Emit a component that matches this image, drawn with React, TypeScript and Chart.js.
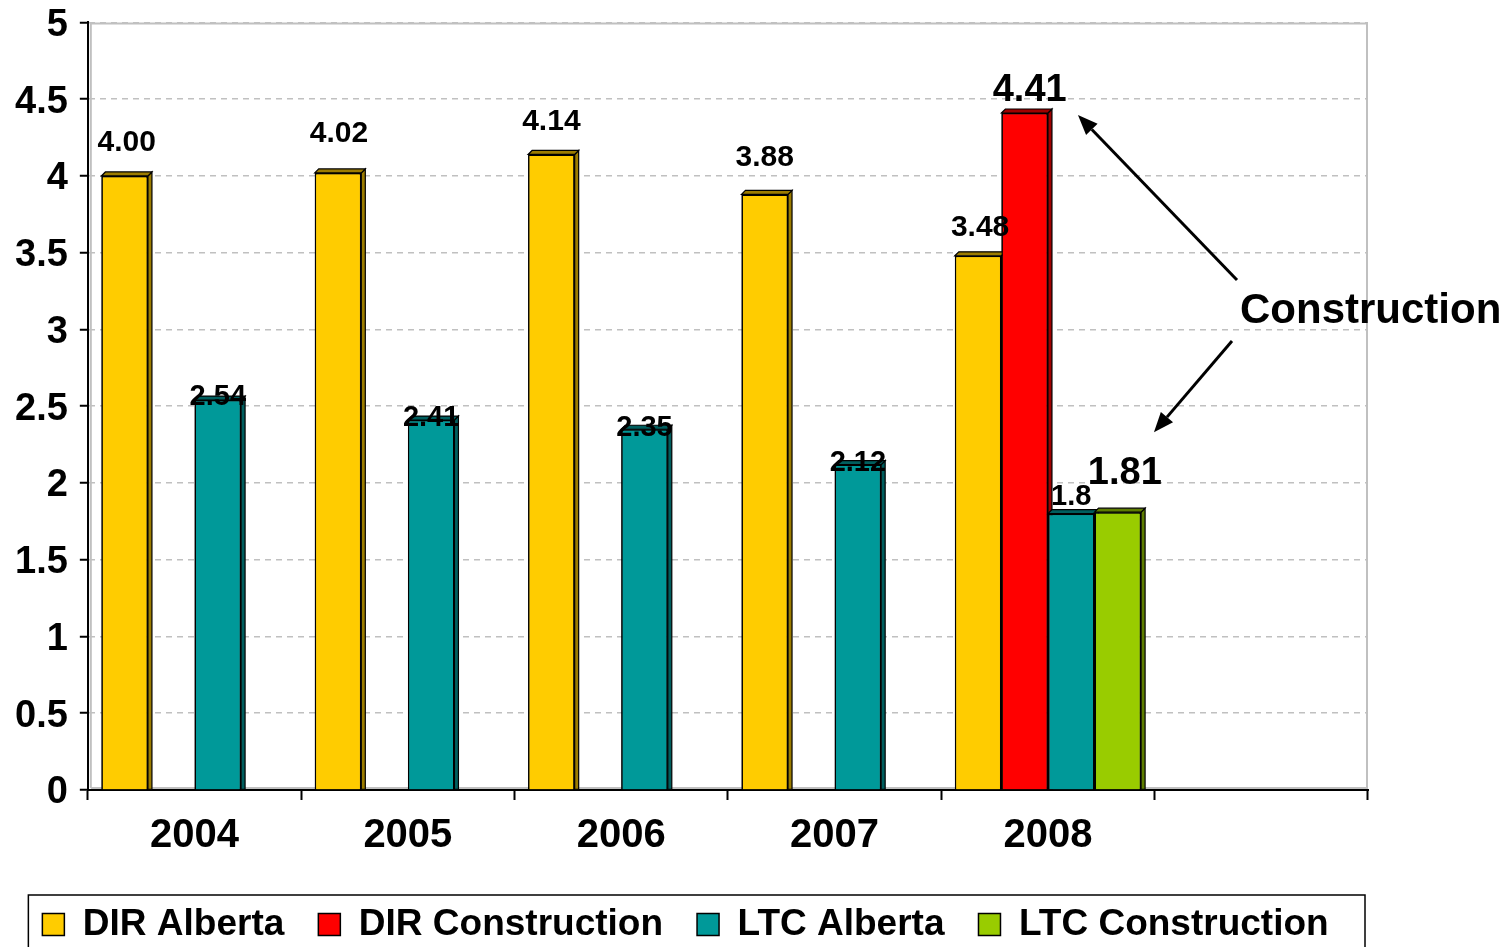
import React, { useEffect, useRef } from "react";
import { Chart, registerables } from "chart.js";

Chart.register(...registerables);

// ---------- data ----------
const categories = ["2004", "2005", "2006", "2007", "2008", ""];
const seriesNames = ["DIR Alberta", "DIR Construction", "LTC Alberta", "LTC Construction"];
const dirAlberta = [4.0, 4.02, 4.14, 3.88, 3.48, null];
const dirConstruction = [null, null, null, null, 4.41, null];
const ltcAlberta = [2.54, 2.41, 2.35, 2.12, 1.8, null];
const ltcConstruction = [null, null, null, null, 1.81, null];
const dirAlbertaLabels = ["4.00", "4.02", "4.14", "3.88", "3.48", ""];
const dirConstructionLabels = ["", "", "", "", "4.41", ""];
const ltcAlbertaLabels = ["2.54", "2.41", "2.35", "2.12", "1.8", ""];
const ltcConstructionLabels = ["", "", "", "", "1.81", ""];
const yMin = 0;
const yMax = 5;
const yStep = 0.5;
const annotationText = "Construction";

// ---------- styles ----------
const FONT = "'Liberation Sans', Arial, Helvetica, sans-serif";
const fills = ["#FFCC00", "#FF0000", "#009999", "#99CC00"];
const darks = ["#9C7C00", "#A00000", "#005E5E", "#5E7D00"];
// label style per series: font size, x shift, y offset (px above bar top, to label centre)
const labelStyles = [
  { size: 30, dx: [2, 1, 0, 0, 2, 0], dy: [33, 39, 33, 37, 28, 0] },
  { size: 38, dx: [0, 0, 0, 0, 5, 0], dy: [0, 0, 0, 0, 23, 0] },
  { size: 29, dx: [0, 0, 0, 0, 0, 0], dy: [3, 2, 1, 2, 17, 0] },
  { size: 38, dx: [0, 0, 0, 0, 7, 0], dy: [0, 0, 0, 0, 39, 0] },
];
const labelSets = [dirAlbertaLabels, dirConstructionLabels, ltcAlbertaLabels, ltcConstructionLabels];
const DEPTH = 4;
const LEGEND_SHIFT = 6;

const framePlugin = {
  id: "frame",
  afterLayout(chart: any) {
    const lg = chart.legend;
    if (lg) {
      lg.top += LEGEND_SHIFT;
      lg.bottom += LEGEND_SHIFT;
    }
  },
  beforeDatasetsDraw(chart: any) {
    const { ctx, chartArea: a } = chart;
    ctx.save();
    ctx.strokeStyle = "#c0c0c0";
    ctx.lineWidth = 2;
    ctx.beginPath();
    ctx.moveTo(a.left + 3, a.bottom - 2);
    ctx.lineTo(a.left + 3, a.top + 1);
    ctx.lineTo(a.right - 1, a.top + 1);
    ctx.lineTo(a.right - 1, a.bottom - 2);
    ctx.lineTo(a.left + 3, a.bottom - 2);
    ctx.stroke();
    ctx.restore();
  },
};

const bars3dPlugin = {
  id: "bars3d",
  afterDatasetsDraw(chart: any) {
    const ctx = chart.ctx;
    ctx.save();
    chart.data.datasets.forEach((ds: any, di: number) => {
      const meta = chart.getDatasetMeta(di);
      meta.data.forEach((el: any, i: number) => {
        if (ds.data[i] == null) return;
        el.draw(ctx);
        const { x, y, base, width } = el.getProps(["x", "y", "base", "width"], true);
        const l = x - width / 2;
        const r = x + width / 2;
        ctx.fillStyle = darks[di];
        ctx.strokeStyle = "#000";
        ctx.lineWidth = 1.2;
        // right side face
        ctx.beginPath();
        ctx.moveTo(r, y);
        ctx.lineTo(r + DEPTH, y - DEPTH);
        ctx.lineTo(r + DEPTH, base);
        ctx.lineTo(r, base);
        ctx.closePath();
        ctx.fill();
        ctx.stroke();
        // top face
        ctx.beginPath();
        ctx.moveTo(l, y);
        ctx.lineTo(l + DEPTH, y - DEPTH);
        ctx.lineTo(r + DEPTH, y - DEPTH);
        ctx.lineTo(r, y);
        ctx.closePath();
        ctx.fill();
        ctx.stroke();
      });
    });
    // data labels
    ctx.fillStyle = "#000";
    ctx.textAlign = "center";
    ctx.textBaseline = "middle";
    chart.data.datasets.forEach((ds: any, di: number) => {
      const meta = chart.getDatasetMeta(di);
      const st = labelStyles[di];
      ctx.font = `bold ${st.size}px ${FONT}`;
      meta.data.forEach((el: any, i: number) => {
        const txt = labelSets[di][i];
        if (ds.data[i] == null || !txt) return;
        const { x, y } = el.getProps(["x", "y"], true);
        ctx.fillText(txt, x + st.dx[i], y - st.dy[i]);
      });
    });
    ctx.restore();
  },
};

function arrow(ctx: any, x1: number, y1: number, x2: number, y2: number) {
  const ang = Math.atan2(y2 - y1, x2 - x1);
  const L = 20;
  const W = 8;
  const bx = x2 - L * Math.cos(ang);
  const by = y2 - L * Math.sin(ang);
  ctx.beginPath();
  ctx.moveTo(x1, y1);
  ctx.lineTo(bx, by);
  ctx.stroke();
  ctx.beginPath();
  ctx.moveTo(x2, y2);
  ctx.lineTo(bx + W * Math.sin(ang), by - W * Math.cos(ang));
  ctx.lineTo(bx - W * Math.sin(ang), by + W * Math.cos(ang));
  ctx.closePath();
  ctx.fill();
}

const annotationPlugin = {
  id: "annot",
  afterDraw(chart: any) {
    const { ctx, chartArea: a, scales } = chart;
    const xs = scales.x;
    const ys = scales.y;
    const cx = xs.getPixelForValue(4);
    const tx = a.right - 128;
    const ty = ys.getPixelForValue(3.12);
    ctx.save();
    ctx.fillStyle = "#000";
    ctx.strokeStyle = "#000";
    ctx.lineWidth = 3;
    ctx.font = `bold 42px ${FONT}`;
    ctx.textAlign = "left";
    ctx.textBaseline = "middle";
    ctx.fillText(annotationText, tx, ty);
    arrow(ctx, tx - 3, ty - 31, cx + 30, ys.getPixelForValue(4.41) + 2);
    arrow(ctx, tx - 8, ty + 30, cx + 106, ys.getPixelForValue(2.33));
    // legend frame
    const lg = chart.legend;
    if (lg && lg.legendHitBoxes && lg.legendHitBoxes.length) {
      const hb = lg.legendHitBoxes;
      const left = hb[0].left - 14;
      const right = a.right - 3;
      const top = hb[0].top - 11;
      ctx.lineWidth = 1.5;
      ctx.strokeRect(left, top, right - left, chart.height + 10 - top);
    }
    ctx.restore();
  },
};

export default function App() {
  const ref = useRef<HTMLCanvasElement | null>(null);
  useEffect(() => {
    document.body.style.margin = "0";
    const seriesData = [dirAlberta, dirConstruction, ltcAlberta, ltcConstruction];
    const chart = new Chart(ref.current as HTMLCanvasElement, {
      type: "bar",
      data: {
        labels: categories,
        datasets: seriesNames.map((name, i) => ({
          label: name,
          data: seriesData[i],
          backgroundColor: fills[i],
          borderColor: "#000",
          borderWidth: 1.5,
          categoryPercentage: 0.873,
          barPercentage: 1.0,
        })),
      },
      options: {
        animation: false,
        responsive: true,
        maintainAspectRatio: false,
        layout: { padding: { left: 3, right: 141, top: 0, bottom: 0 } },
        plugins: {
          tooltip: { enabled: false },
          legend: {
            position: "bottom",
            labels: {
              color: "#000",
              font: { family: FONT, size: 37, weight: "bold" },
              boxWidth: 22,
              boxHeight: 22,
              padding: 34,
            },
          },
        },
        scales: {
          x: {
            grid: {
              display: true,
              drawOnChartArea: false,
              drawTicks: true,
              tickLength: 10,
              tickColor: "#000",
              tickWidth: 2,
            },
            border: { display: true, color: "#000", width: 2 },
            ticks: {
              color: "#000",
              font: { family: FONT, size: 40, weight: "bold" },
              padding: 12,
            },
            afterFit: (s: any) => {
              s.height = 76;
            },
          },
          y: {
            min: yMin,
            max: yMax,
            grid: {
              color: "#c0c0c0",
              lineWidth: 1.5,
              tickLength: 8,
              tickColor: "#000",
              tickWidth: 2,
            },
            border: { display: true, color: "#000", width: 2, dash: [6, 5] },
            ticks: {
              stepSize: yStep,
              color: "#000",
              padding: 12,
              labelOffset: 3,
              font: { family: FONT, size: 38, weight: "bold", lineHeight: 0.55 },
              callback: (v: any) => String(v),
            },
          },
        },
      },
      plugins: [framePlugin, bars3dPlugin, annotationPlugin],
    } as any);
    return () => chart.destroy();
  }, []);
  return (
    <div style={{ width: 1509, height: 947, position: "relative" }}>
      <canvas ref={ref} />
    </div>
  );
}
